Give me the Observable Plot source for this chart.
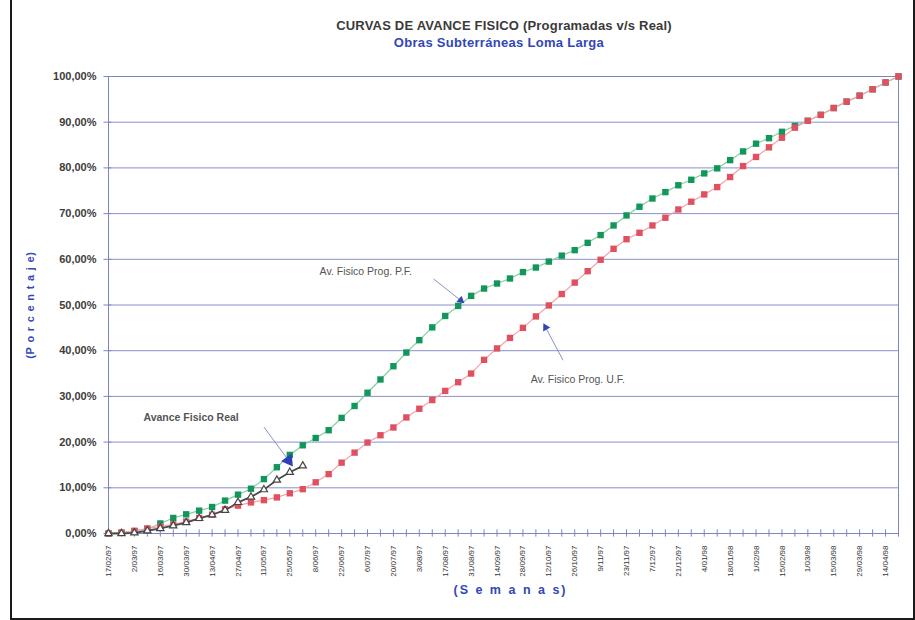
<!DOCTYPE html>
<html>
<head>
<meta charset="utf-8">
<script src="https://cdn.jsdelivr.net/npm/d3@7"></script>
<script src="https://cdn.jsdelivr.net/npm/@observablehq/plot@0.6"></script>
<style>
  html, body { margin: 0; padding: 0; background: #fff; }
  body { width: 915px; height: 620px; position: relative; overflow: hidden; font-family: 'Liberation Sans', Arial, sans-serif; }
  #head { height: 56px; position: relative; }
  #title { position: absolute; left: 504px; top: 18px; transform: translateX(-50%); white-space: nowrap;
           font-size: 13px; font-weight: bold; color: #3a3a3a; letter-spacing: 0.2px; }
  #subtitle { position: absolute; left: 499px; top: 35px; transform: translateX(-50%); white-space: nowrap;
           font-size: 13px; font-weight: bold; color: #3346b8; letter-spacing: 0.3px; }
  #border { position: absolute; left: 10px; top: -3px; width: 901px; height: 619px; border: 2px solid #1a1a1a; pointer-events: none; }
  svg { display: block; }
</style>
</head>
<body>
<div id="head">
  <div id="title">CURVAS DE AVANCE FISICO (Programadas v/s Real)</div>
  <div id="subtitle">Obras Subterráneas Loma Larga</div>
</div>
<div id="chart"></div>
<div id="border"></div>
<script>
// Tick labels (every second week)
const weekLabels = ["17/02/97","2/03/97","16/03/97","30/03/97","13/04/97","27/04/97","11/05/97","25/05/97","8/06/97","22/06/97","6/07/97","20/07/97","3/08/97","17/08/97","31/08/97","14/09/97","28/09/97","12/10/97","26/10/97","9/11/97","23/11/97","7/12/97","21/12/97","4/01/98","18/01/98","1/02/98","15/02/98","1/03/98","15/03/98","29/03/98","14/04/98"];

// Av. Fisico Prog. P.F. (%), weekly
const progPF = [0,0.2,0.5,1.0,2.2,3.4,4.2,5.0,5.8,7.2,
  8.5,9.8,11.9,14.5,17.2,19.3,20.9,22.6,25.3,27.9,
  30.8,33.7,36.6,39.6,42.3,45.1,47.6,49.8,52.0,53.6,
  54.7,55.8,57.2,58.2,59.5,60.8,62.0,63.6,65.3,67.4,
  69.6,71.5,73.3,74.7,76.2,77.4,78.8,79.9,81.7,83.6,
  85.3,86.5,87.9,89.2,90.3,91.6,93.1,94.5,95.8,97.2,
  98.7,100];

// Av. Fisico Prog. U.F. (%), weekly
const progUF = [0,0.15,0.6,1.1,1.5,2.0,2.6,3.4,4.1,5.3,
  6.1,6.8,7.3,7.9,8.8,9.7,11.2,13.0,15.5,17.7,
  19.9,21.5,23.2,25.4,27.3,29.2,31.2,33.1,35.0,38.0,
  40.5,42.8,45.0,47.5,49.9,52.4,54.9,57.4,59.9,62.3,
  64.4,65.8,67.4,69.1,70.9,72.6,74.2,75.8,78.0,80.4,
  82.4,84.5,86.6,88.8,90.3,91.6,93.1,94.5,95.8,97.2,
  98.7,100];

// Avance Fisico Real (%), weekly
const real = [0,0,0.15,0.6,1.1,1.7,2.4,3.3,4.1,5.1,6.8,8.0,9.6,11.7,13.4,14.8];

const yTicks = [0,10,20,30,40,50,60,70,80,90,100];

const yTitle = "(P o r c e n t a j e)";
const xTitle = "(S e m a n a s)";

const weeks = progPF.map((_, i) => i);
const labelIdx = weekLabels.map((_, i) => i * 2);
const pf = progPF.map((v, i) => ({i, v}));
const uf = progUF.map((v, i) => ({i, v}));
const re = real.map((v, i) => ({i, v}));

const grid = "#7d84c4";
const green = "#12975a", red = "#e0505f";
const txt = "#3c3c3c";

const chart = Plot.plot({
  width: 915, height: 564,
  marginTop: 20, marginBottom: 87, marginLeft: 108, marginRight: 17,
  style: {fontFamily: "'Liberation Sans', Arial, sans-serif", background: "white", overflow: "visible"},
  x: {domain: [0, 61], axis: null},
  y: {domain: [0, 100], axis: null},
  marks: [
    Plot.gridY(yTicks, {stroke: grid, strokeOpacity: 0.9, strokeWidth: 1}),
    Plot.frame({stroke: grid, strokeWidth: 1}),
    Plot.ruleX(weeks, {x: d => d, y1: -0.8, y2: 0.8, stroke: grid}),
    Plot.ruleY(yTicks, {y: d => d, x1: -0.35, x2: 0.25, stroke: grid}),
    Plot.axisY(yTicks, {label: null, tickSize: 0, tickPadding: 12, fontSize: 11, fontWeight: "bold", fill: txt,
      tickFormat: d => d.toFixed(2).replace(".", ",") + "%"}),
    Plot.axisX(labelIdx, {label: null, tickSize: 0, tickPadding: 12, tickRotate: -90, fontSize: 8, fill: "#333",
      tickFormat: i => weekLabels[i / 2]}),

    Plot.line(pf, {x: "i", y: "v", stroke: "#86cf9f", strokeWidth: 1.2}),
    Plot.dot(pf, {x: "i", y: "v", symbol: "square", r: 3.6, fill: green}),
    Plot.line(uf, {x: "i", y: "v", stroke: "#f2a2aa", strokeWidth: 1.2}),
    Plot.dot(uf, {x: "i", y: "v", symbol: "square", r: 3.6, fill: red}),
    Plot.line(re, {x: "i", y: "v", stroke: "#4a4a4a", strokeWidth: 1.8}),
    Plot.dot(re, {x: "i", y: "v", symbol: "triangle", r: 2.7, fill: "white", stroke: "#444", strokeWidth: 1.2}),

    // annotations
    Plot.text(["Av. Fisico Prog. P.F."], {x: 16.3, y: 57.3, textAnchor: "start", fontSize: 10.5, fill: "#555"}),
    Plot.link([0], {x1: 25.1, y1: 55.7, x2: 27.2, y2: 51.0, stroke: "#8a90c8"}),
    Plot.dot([0], {x: 27.2, y: 51.0, symbol: "triangle", r: 3, fill: "#3545b5", rotate: 129}),

    Plot.text(["Av. Fisico Prog. U.F."], {x: 32.6, y: 33.7, textAnchor: "start", fontSize: 10.5, fill: "#555"}),
    Plot.link([0], {x1: 35.1, y1: 37.9, x2: 33.75, y2: 45.1, stroke: "#8a90c8"}),
    Plot.dot([0], {x: 33.75, y: 45.1, symbol: "triangle", r: 3, fill: "#3545b5", rotate: -29}),

    Plot.text(["Avance Fisico Real"], {x: 2.7, y: 25.4, textAnchor: "start", fontSize: 10.5, fontWeight: "bold", fill: "#555"}),
    Plot.link([0], {x1: 12.0, y1: 23.3, x2: 13.9, y2: 16.0, stroke: "#8a90c8"}),
    Plot.dot([0], {x: 13.9, y: 16.0, symbol: "triangle", r: 4.8, fill: "#2f3fb5", rotate: 144}),

    // axis titles
    Plot.text([yTitle], {frameAnchor: "left", textAnchor: "middle", dx: -78, rotate: -90, fontSize: 11, fontWeight: "bold", fill: "#3346b8"}),
    Plot.text([xTitle], {frameAnchor: "bottom", dx: 7, dy: 60, fontSize: 12.5, fontWeight: "bold", fill: "#3346b8"})
  ]
});
d3.select(chart).selectAll("text").each(function() {
  const t = this.textContent;
  if (t === xTitle) d3.select(this).style("letter-spacing", "2px");
  if (t === yTitle) d3.select(this).style("letter-spacing", "0.8px");
});
document.getElementById("chart").appendChild(chart);
</script>
</body>
</html>
